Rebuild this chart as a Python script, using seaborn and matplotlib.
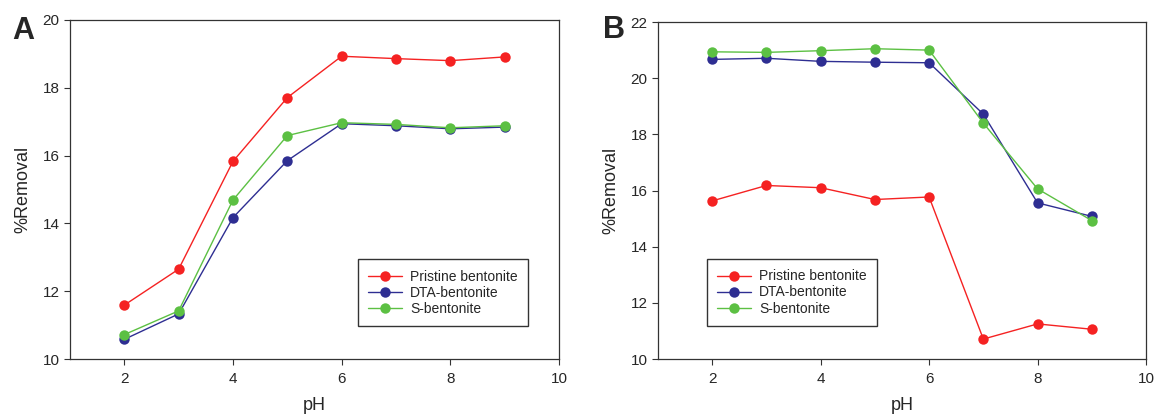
import matplotlib
matplotlib.use("Agg")
import matplotlib.pyplot as plt
import seaborn as sns
import pandas as pd

ph = [2, 3, 4, 5, 6, 7, 8, 9]
series_names = ["Pristine bentonite", "DTA-bentonite", "S-bentonite"]

a_pristine = [11.59, 12.65, 15.83, 17.71, 18.93, 18.86, 18.80, 18.91]
a_dta = [10.58, 11.33, 14.17, 15.85, 16.94, 16.88, 16.79, 16.84]
a_s = [10.72, 11.42, 14.69, 16.59, 16.97, 16.92, 16.82, 16.88]

b_pristine = [15.63, 16.18, 16.10, 15.68, 15.77, 10.71, 11.25, 11.06]
b_dta = [20.67, 20.71, 20.60, 20.57, 20.55, 18.72, 15.56, 15.08]
b_s = [20.94, 20.92, 20.98, 21.05, 21.00, 18.40, 16.06, 14.93]

x_label = "pH"
y_label = "%Removal"

colors = ["#f52222", "#2e2e92", "#5cc043"]


def make_df(vals):
    rows = []
    for name, v in zip(series_names, vals):
        for x, y in zip(ph, v):
            rows.append({"pH": x, "val": y, "series": name})
    return pd.DataFrame(rows)


sns.set_style("ticks")
plt.rcParams["font.family"] = ["Liberation Sans", "DejaVu Sans"]

fig = plt.figure(figsize=(11.57, 4.16), dpi=100)
axA = fig.add_axes([0.0605, 0.137, 0.4226, 0.815])
axB = fig.add_axes([0.5687, 0.137, 0.4218, 0.810])

panels = [
    (axA, [a_pristine, a_dta, a_s], (10, 20), [10, 12, 14, 16, 18, 20], "A",
     (-0.095, 0.968),
     dict(loc="lower right", bbox_to_anchor=(0.937, 0.097))),
    (axB, [b_pristine, b_dta, b_s], (10, 22), [10, 12, 14, 16, 18, 20, 22], "B",
     (-0.090, 0.976),
     dict(loc="lower left", bbox_to_anchor=(0.100, 0.098))),
]

for ax, vals, ylim, yticks, letter, lpos, legkw in panels:
    df = make_df(vals)
    sns.lineplot(data=df, x="pH", y="val", hue="series", hue_order=series_names,
                 palette=colors, marker="o", markersize=7.5, markeredgewidth=0,
                 linewidth=1.0, ax=ax, legend=True)
    ax.set_xlim(1, 10)
    ax.set_ylim(*ylim)
    ax.set_xticks([2, 4, 6, 8, 10])
    ax.set_yticks(yticks)
    ax.set_xlabel(x_label, fontsize=13, labelpad=8)
    ax.set_ylabel(y_label, fontsize=13, labelpad=8)
    ax.tick_params(axis="both", labelsize=11, length=4, width=0.8, direction="out",
                   color="#333333")
    ax.tick_params(axis="x", pad=5)
    for sp in ax.spines.values():
        sp.set_visible(True)
        sp.set_linewidth(0.9)
        sp.set_color("#333333")
    leg = ax.legend(frameon=True, fancybox=False, fontsize=10, handlelength=2.4,
                    borderpad=0.75, labelspacing=0.15, handletextpad=0.6,
                    borderaxespad=0, **legkw)
    leg.get_frame().set_edgecolor("black")
    leg.get_frame().set_linewidth(1.0)
    for h in leg.legend_handles:
        h.set_linewidth(1.0)
    ax.text(lpos[0], lpos[1], letter, transform=ax.transAxes, fontsize=22,
            fontweight="bold", ha="center", va="center")

fig.savefig("out.png", dpi=100)
